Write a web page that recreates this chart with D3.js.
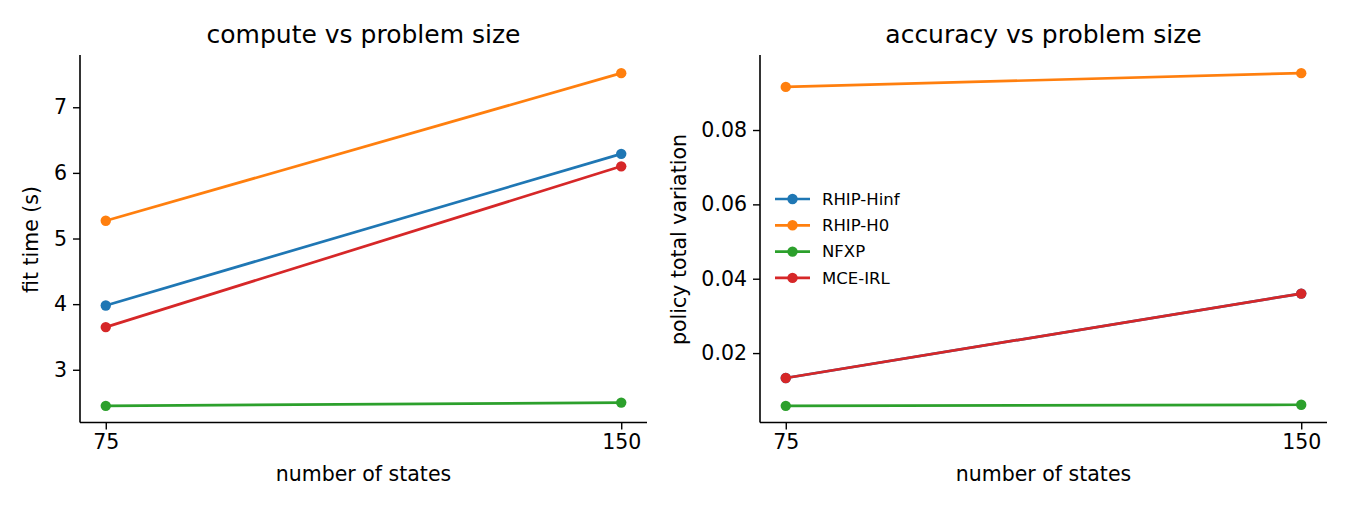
<!DOCTYPE html>
<html>
<head>
<meta charset="utf-8">
<script src="https://cdn.jsdelivr.net/npm/d3@7"></script>
<style>
  body { margin: 0; background: #fff; }
  text { font-family: "DejaVu Sans", sans-serif; fill: #000; }
</style>
</head>
<body>
<div id="chart"></div>
<script>
// data
const states = [75, 150];
const methods = ["RHIP-Hinf", "RHIP-H0", "NFXP", "MCE-IRL"];
const colors = ["#1f77b4", "#ff7f0e", "#2ca02c", "#d62728"];

const fitTime = [
    [3.98, 6.29],   // RHIP-Hinf
    [5.27, 7.52],   // RHIP-H0
    [2.45, 2.50],   // NFXP
    [3.65, 6.10]    // MCE-IRL
];
const policyTV = [
    [0.0133, 0.0360],
    [0.0916, 0.0953],
    [0.0058, 0.0061],
    [0.0133, 0.0360]
];

const fitTicks = [3, 4, 5, 6, 7];
const tvTicks = [0.02, 0.04, 0.06, 0.08];

const width = 1350, height = 510;

const svg = d3.select("#chart")
    .append("svg")
    .attr("width", width)
    .attr("height", height);

function pad(ext, f) {
    const r = ext[1] - ext[0];
    return [ext[0] - r * f, ext[1] + r * f];
}

function drawPanel(left, series, ticks, fmt, title, ylabel, labelOffset, showLegend) {
    const top = 56.5, bottom = 422.5, w = 567;
    const g = svg.append("g");

    const x = d3.scaleLinear()
        .domain(pad(d3.extent(states), 0.05))
        .range([left, left + w]);
    const y = d3.scaleLinear()
        .domain(pad(d3.extent(series.flat()), 0.05))
        .range([bottom, top]);

    // axes
    const xAxis = g.append("g")
        .attr("transform", `translate(0,${bottom})`)
        .call(d3.axisBottom(x).tickValues(states).tickSize(7).tickPadding(5));
    const yAxis = g.append("g")
        .attr("transform", `translate(${left},0)`)
        .call(d3.axisLeft(y).tickValues(ticks).tickFormat(fmt).tickSize(7).tickPadding(6));

    [xAxis, yAxis].forEach(a => {
        a.selectAll("text").style("font-size", "20.5px").attr("fill", "#000");
        a.selectAll("line").attr("stroke", "#000").attr("stroke-width", 1.4);
        a.select(".domain").attr("stroke", "#000").attr("stroke-width", 1.6);
    });
    xAxis.select(".domain").attr("d", `M${left},0H${left + w}`);
    yAxis.select(".domain").attr("d", `M0,${top - 1.5}V${bottom}`);

    const line = d3.line()
        .x((d, i) => x(states[i]))
        .y(d => y(d));

    series.forEach((s, k) => {
        g.append("path")
            .datum(s)
            .attr("d", line)
            .attr("fill", "none")
            .attr("stroke", colors[k])
            .attr("stroke-width", 2.7);
        g.selectAll(null)
            .data(s)
            .enter()
            .append("circle")
            .attr("cx", (d, i) => x(states[i]))
            .attr("cy", d => y(d))
            .attr("r", 5.2)
            .attr("fill", colors[k]);
    });

    g.append("text")
        .attr("x", left + w / 2)
        .attr("y", 43)
        .attr("text-anchor", "middle")
        .style("font-size", "25px")
        .text(title);

    g.append("text")
        .attr("x", left + w / 2)
        .attr("y", 481)
        .attr("text-anchor", "middle")
        .style("font-size", "20.5px")
        .text("number of states");

    g.append("text")
        .attr("transform", `translate(${left - labelOffset},${(top + bottom) / 2}) rotate(-90)`)
        .attr("text-anchor", "middle")
        .style("font-size", "20.5px")
        .text(ylabel);

    if (showLegend) {
        const lg = g.append("g").attr("transform", `translate(${left + 15},199)`);
        methods.forEach((m, k) => {
            const row = lg.append("g").attr("transform", `translate(0,${k * 26.3})`);
            row.append("line")
                .attr("x1", 0).attr("x2", 35)
                .attr("stroke", colors[k]).attr("stroke-width", 2.7);
            row.append("circle").attr("cx", 17.5).attr("r", 5.2).attr("fill", colors[k]);
            row.append("text")
                .attr("x", 47)
                .attr("dy", "0.35em")
                .style("font-size", "16.5px")
                .text(m);
        });
    }
}

drawPanel(80, fitTime, fitTicks, d3.format("d"), "compute vs problem size", "fit time (s)", 42, false);
drawPanel(760, policyTV, tvTicks, d3.format(".2f"), "accuracy vs problem size", "policy total variation", 74, true);
</script>
</body>
</html>
